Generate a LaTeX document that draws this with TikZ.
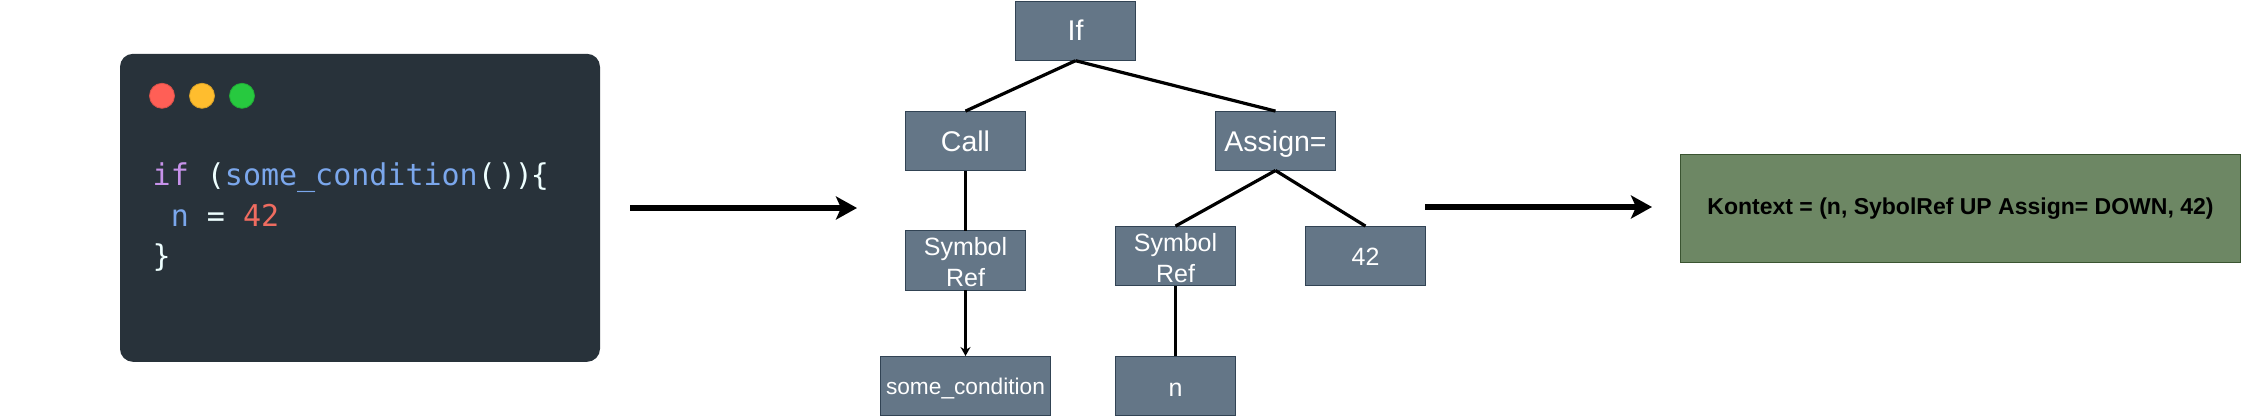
\documentclass[tikz,border=0pt]{standalone}
\usepackage{fontspec}
\setmainfont{Liberation Sans}
\setmonofont{DejaVu Sans Mono}
\usetikzlibrary{arrows.meta}
\definecolor{boxfill}{HTML}{647687}
\definecolor{boxline}{HTML}{314354}
\definecolor{greenfill}{HTML}{6D8764}
\definecolor{greenline}{HTML}{3A5431}
\definecolor{panel}{HTML}{28323A}
\definecolor{kwpurple}{HTML}{C792EA}
\definecolor{fnblue}{HTML}{7BA7EC}
\definecolor{numred}{HTML}{EF6C60}
\definecolor{codewhite}{HTML}{EEFFFF}
\definecolor{dotred}{HTML}{FF5F56}
\definecolor{dotyellow}{HTML}{FFBD2E}
\definecolor{dotgreen}{HTML}{27C93F}
\tikzset{
  x=1pt,y=-1pt,
  treebox/.style={draw=boxline,fill=boxfill,line width=1pt,text=white,inner sep=0pt,outer sep=0pt,minimum height=59.4pt},
  narrowbox/.style={treebox,minimum width=120pt},
  bigtext/.style={font=\fontsize{28.5}{32}\selectfont,text height=#1,text depth=59.4pt-#1},
  midtext/.style={font=\fontsize{25}{29.3}\selectfont,text height=#1,text depth=59.4pt-#1},
  twolines/.style={font=\fontsize{25}{30}\selectfont,align=center},
  edgeline/.style={draw=black,line width=3.2pt},
  flow/.style={draw=black,line width=5.3pt,-{Stealth[length=21pt,width=23pt,inset=5pt]}},
  codeline/.style={anchor=base west,inner sep=0pt,font=\ttfamily\fontsize{30}{40}\selectfont,text=codewhite},
  dot/.style={circle,inner sep=0pt,minimum size=25pt,draw=#1!85!black,fill=#1,line width=.8pt},
}
\begin{document}
\begin{tikzpicture}
\useasboundingbox (0,0) rectangle (2241,416);
% code panel
\node[fill=panel,rounded corners=13pt,minimum width=480pt,minimum height=308pt,inner sep=0pt] (panel) at (360,207.8) {};
\node[dot=dotred] (d1) at (162,95.8) {};
\node[dot=dotyellow] (d2) at (202,95.8) {};
\node[dot=dotgreen] (d3) at (242,95.8) {};
\node[codeline] (c1) at (152.5,185.5) {\textcolor{kwpurple}{if}\ (\textcolor{fnblue}{some\_condition}(\hspace{2pt})\kern-1pt)\kern-2pt\{};
\node[codeline] (c2) at (152.5,226) {\ \textcolor{fnblue}{n}\ =\ \textcolor{numred}{42}};
\node[codeline] (c3) at (152.5,266) {\}};
% tree
\node[narrowbox,bigtext=39pt] (if) at (1075.5,31) {If};
\node[narrowbox,bigtext=40pt] (call) at (965.5,140.8) {Call};
\node[narrowbox,bigtext=40pt] (assign) at (1275.5,140.8) {Assign=};
\node[narrowbox,twolines] (sr1) at (965.5,260.6) {\rule{0pt}{22pt}Symbol\\[1pt]Ref};
\node[narrowbox,twolines] (sr2) at (1175.5,255.8) {\rule{0pt}{22pt}Symbol\\[1pt]Ref};
\node[narrowbox,midtext=39.5pt] (num) at (1365.5,255.8) {42};
\node[treebox,minimum width=170pt,font=\fontsize{22.7}{27}\selectfont,text height=38.5pt,text depth=20.9pt] (cond) at (965.5,385.7) {some\_condition};
\node[narrowbox,midtext=40pt] (n) at (1175.5,385.7) {n};
\draw[edgeline] (if.south) -- (call.north);
\draw[edgeline] (if.south) -- (assign.north);
\draw[edgeline] (call.south) -- (sr1.north);
\draw[edgeline,-{Stealth[length=9pt,width=10pt,inset=3pt]}] (sr1.south) -- (cond.north);
\draw[edgeline] (assign.south) -- (sr2.north);
\draw[edgeline] (assign.south) -- (num.north);
\draw[edgeline] (sr2.south) -- (n.north);
% result
\node[draw=greenline,fill=greenfill,line width=1pt,inner sep=0pt,outer sep=0pt,minimum width=560.4pt,minimum height=108pt,font=\bfseries\fontsize{23}{28}\selectfont,text=black] (ctx) at (1960.5,208.3) {Kontext = (n, SybolRef UP Assign= DOWN, 42)};
% flow arrows
\coordinate (a1s) at (630,208);
\coordinate (a1e) at (857,208);
\coordinate (a2s) at (1425,207);
\coordinate (a2e) at (1652,207);
\draw[flow] (a1s) -- (a1e);
\draw[flow] (a2s) -- (a2e);
\end{tikzpicture}
\end{document}
